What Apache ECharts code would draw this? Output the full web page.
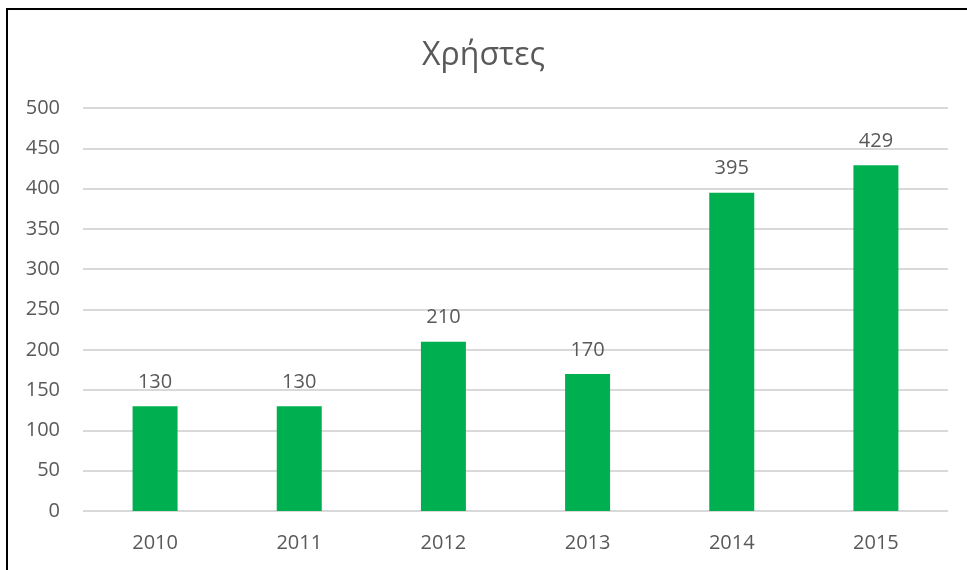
<!DOCTYPE html>
<html>
<head>
<meta charset="utf-8">
<script src="https://cdn.jsdelivr.net/npm/echarts@6/dist/echarts.min.js"></script>
<style>
  html, body { margin: 0; padding: 0; background: #fff; }
  #wrap { position: relative; width: 967px; height: 570px; overflow: hidden; }
  #bar { width: 967px; height: 570px; }
  #frame { position: absolute; left: 6px; top: 8px; width: 980px; height: 600px;
           border-top: 2px solid #000; border-left: 2px solid #000; pointer-events: none; }
</style>
</head>
<body>
<div id="wrap">
  <div id="bar"></div>
  <div id="frame"></div>
</div>
<script>
let years = ['2010', '2011', '2012', '2013', '2014', '2015']
let users = [130, 130, 210, 170, 395, 429]
let barColor = '#00B050'
let textColor = '#595959'

//chart
function makeBar(id) {
	let chart = echarts.init(document.getElementById(id))
	let option = {
		animation: false,
		textStyle: { fontFamily: 'Open Sans' },
		title: {
			text: 'Χρήστες',
			left: 'center',
			top: 35,
			textStyle: { fontSize: 32, fontWeight: 'normal', color: textColor, fontFamily: 'Open Sans' }
		},
		grid: { left: 83, right: 19, top: 108, bottom: 59 },
		xAxis: {
			type: 'category',
			data: years,
			axisLine: { show: false },
			axisTick: { show: false },
			axisLabel: { color: textColor, fontSize: 20, margin: 22 }
		},
		yAxis: {
			type: 'value',
			min: 0,
			max: 500,
			interval: 50,
			axisLine: { show: false },
			axisTick: { show: false },
			axisLabel: { color: textColor, fontSize: 20, margin: 23 },
			splitLine: { lineStyle: { color: '#d9d9d9', width: 2 } }
		},
		series: [
			{
				type: 'bar',
				data: users,
				barWidth: 45,
				itemStyle: { color: barColor },
				label: { show: true, position: 'top', distance: 14, color: textColor, fontSize: 20 }
			}
		]
	}
	chart.setOption(option)
}

window.onload = function() {
	makeBar('bar')
}
</script>
</body>
</html>
